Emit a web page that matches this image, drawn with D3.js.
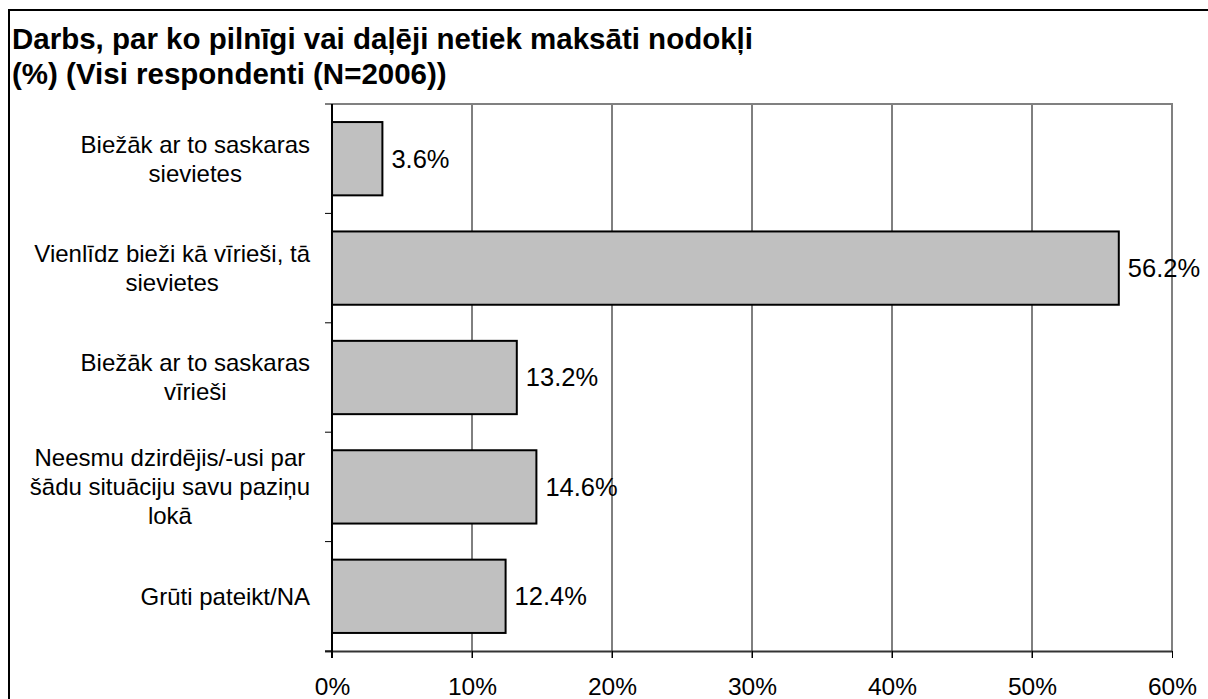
<!DOCTYPE html>
<html>
<head>
<meta charset="utf-8">
<script src="https://cdn.jsdelivr.net/npm/d3@7"></script>
<style>
  html, body { margin: 0; padding: 0; background: #fff; }
  svg { display: block; }
  text { font-family: "Liberation Sans", Arial, sans-serif; fill: #000; }
</style>
</head>
<body>
<svg id="chart" width="1208" height="699"></svg>
<script>
const titleLines = ["Darbs, par ko pilnīgi vai daļēji netiek maksāti nodokļi", "(%) (Visi respondenti (N=2006))"];
const categories = [
  ["Biežāk ar to saskaras", "sievietes"],
  ["Vienlīdz bieži kā vīrieši, tā", "sievietes"],
  ["Biežāk ar to saskaras", "vīrieši"],
  ["Neesmu dzirdējis/-usi par", "šādu situāciju savu paziņu", "lokā"],
  ["Grūti pateikt/NA"]
];
const values = [3.6, 56.2, 13.2, 14.6, 12.4];
const ticks = [0, 10, 20, 30, 40, 50, 60];

(function () {
const svg = d3.select("#chart");
const pL = 332, pR = 1172, pT = 104, pB = 651;

// outer border
svg.append("path").attr("d", `M9,699 V10 H1208`).attr("fill", "none")
  .attr("stroke", "#000").attr("stroke-width", 2);

// title
const title = svg.append("text").style("font-size", "29.5px").style("font-weight", "bold");
titleLines.forEach((t, i) => title.append("tspan").attr("x", 12).attr("y", 49 + i * 35).text(t));

const x = d3.scaleLinear().domain([0, 60]).range([pL, pR]);
const idx = categories.map((d, i) => i);
const y = d3.scaleBand().domain(idx).range([pT, pB]).paddingInner(0.33).paddingOuter(0.165);
const yb = d3.scaleBand().domain(idx).range([pT, pB]);

// gridlines + bottom ticks
svg.append("g").selectAll("line").data(ticks.filter(t => t > 0 && t < 60)).join("line")
  .attr("x1", d => x(d)).attr("x2", d => x(d)).attr("y1", pT).attr("y2", pB + 7)
  .attr("stroke", "#000").attr("stroke-width", 1);

// plot border top/right (gray)
svg.append("path").attr("d", `M${pL},${pT} H${pR} V${pB}`).attr("fill", "none")
  .attr("stroke", "#808080").attr("stroke-width", 2);

// bars
svg.append("g").selectAll("rect").data(values).join("rect")
  .attr("x", x(0)).attr("y", (d, i) => y(i))
  .attr("width", d => x(d) - x(0)).attr("height", y.bandwidth())
  .attr("fill", "#c0c0c0").attr("stroke", "#000").attr("stroke-width", 2);

// x axis
const xAxis = d3.axisBottom(x).tickValues(ticks).tickFormat(d => d + "%").tickSize(7).tickPadding(14);
const gx = svg.append("g").attr("transform", `translate(0,${pB})`).call(xAxis);
gx.select(".domain").attr("d", `M${pL - 7},0.5 H${pR}`).attr("stroke", "#333").attr("stroke-width", 2);
gx.selectAll(".tick line").attr("stroke", "#000");
gx.selectAll(".tick text").style("font-size", "24.5px").style("font-family", "'Liberation Sans', Arial, sans-serif")
  .attr("fill", "#000").attr("dy", "0.93em");

// y axis line and boundary ticks
svg.append("line").attr("x1", pL).attr("x2", pL).attr("y1", pT).attr("y2", pB + 7)
  .attr("stroke", "#000").attr("stroke-width", 2);
const bounds = idx.map(i => yb(i)).concat([pB]);
svg.append("g").selectAll("line").data(bounds).join("line")
  .attr("x1", pL - 7).attr("x2", pL).attr("y1", d => d).attr("y2", d => d)
  .attr("stroke", "#000").attr("stroke-width", 1);

// category labels: block right-aligned, lines centered within block
const labelRight = 310, lh = 29, fs = 24;
const lg = svg.append("g");
categories.forEach((lines, i) => {
  const t = lg.append("text").style("font-size", fs + "px").attr("text-anchor", "middle");
  const cy = y(i) + y.bandwidth() / 2;
  const n = lines.length;
  lines.forEach((l, j) => {
    t.append("tspan").attr("y", cy + (j - (n - 1) / 2) * lh).attr("dy", "0.35em").text(l);
  });
  let maxW = 0;
  t.selectAll("tspan").each(function () { maxW = Math.max(maxW, this.getComputedTextLength()); });
  t.selectAll("tspan").attr("x", labelRight - maxW / 2);
});

// value labels
svg.append("g").selectAll("text").data(values).join("text")
  .attr("x", d => x(d) + 9).attr("y", (d, i) => y(i) + y.bandwidth() / 2).attr("dy", "0.35em")
  .style("font-size", "25.5px").text(d => d.toFixed(1) + "%");
})();
</script>
</body>
</html>
